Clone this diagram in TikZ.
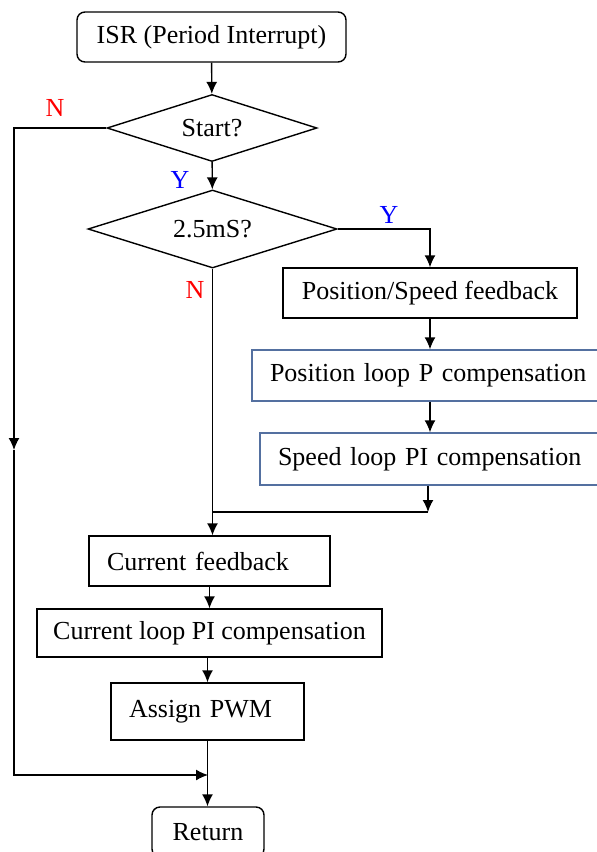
\documentclass[tikz,border=0pt]{standalone}
\usepackage{fontspec}
\setmainfont{Liberation Serif}
\usetikzlibrary{shapes.geometric, arrows.meta}
\definecolor{boxblue}{RGB}{84,112,160}
\begin{document}
\begin{tikzpicture}[x=0.5pt, y=-0.5pt, >={Latex[length=6pt,width=5.5pt]}, line width=0.7pt,
    font=\fontsize{13}{15}\selectfont,
    box/.style={draw, rectangle, inner sep=0pt, align=center},
    lbox/.style={draw, rectangle, inner xsep=9pt, inner ysep=0pt, align=left},
    term/.style={box, rounded corners=4pt},
    cond/.style={draw, diamond, aspect=3, inner sep=0pt},
    yes/.style={text=blue},
    no/.style={text=red}]
    \useasboundingbox (0,0) rectangle (596,852);
    % blocks
    \node[term, minimum width=134.5pt, minimum height=25pt] (isr) at (211.5,37) {ISR (Period Interrupt)};
    \node[cond, minimum width=105pt, minimum height=33.5pt] (start) at (212,128) {Start?};
    \node[cond, minimum width=124.5pt, minimum height=39pt] (tick) at (212.5,229) {2.5mS?};
    \node[box, minimum width=147pt, minimum height=25pt] (posfb) at (430,293) {Position/Speed feedback};
    \node[lbox, draw=boxblue, text width=160pt, minimum height=25.5pt] (posloop) at (430,375.5) {Position loop P compensation};
    \node[lbox, draw=boxblue, text width=154pt, minimum height=26pt] (spdloop) at (432,459) {Speed loop PI compensation};
    \node[lbox, text width=102.5pt, minimum height=25pt] (curfb) at (209.5,561) {Current feedback};
    \node[box, minimum width=172.5pt, minimum height=24pt] (curloop) at (209.5,633) {Current loop PI compensation};
    \node[lbox, text width=78.5pt, minimum height=28.5pt] (pwm) at (207.5,711.5) {Assign PWM};
    \node[term, minimum width=56pt, minimum height=25pt] (ret) at (208,832) {Return};
    % labels
    \node[no] (n1) at (55,108) {N};
    \node[yes] (y1) at (180,180) {Y};
    \node[yes] (y2) at (389,215) {Y};
    \node[no] (n2) at (195,290) {N};
    % points
    \coordinate (mid) at (14,450);
    \coordinate (join) at (208,775);
    \coordinate (merge) at (428,512);
    % flow
    \draw[->] (isr) -- (start);
    \draw[->] (start) -- (tick);
    \draw[->] (start.west) -| (mid);
    \draw[->] (mid) |- (join);
    \draw[->] (tick.east) -| (posfb.north);
    \draw[->] (posfb) -- (posloop);
    \draw[->] (posloop.south) -- (posloop.south |- spdloop.north);
    \draw[->] (spdloop.south -| merge) -- (merge);
    \draw (merge) -- (merge -| tick.south);
    \draw[->] (tick.south) -- (tick.south |- curfb.north);
    \draw[->] (curfb.south) -- (curfb.south |- curloop.north);
    \draw[->] (curloop.south -| pwm.south) -- (pwm.north);
    \draw[->] (pwm.south) -- (pwm.south |- ret.north);
\end{tikzpicture}
\end{document}
